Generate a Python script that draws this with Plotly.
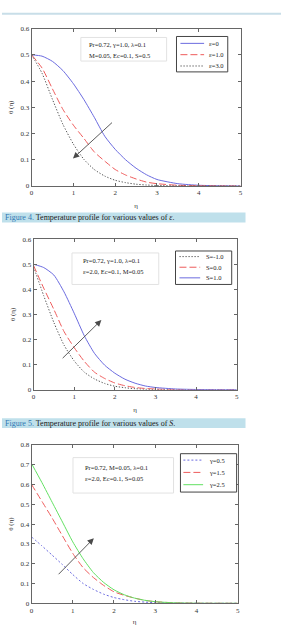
import plotly.graph_objects as go

# ---------------- data ----------------
eta = [0, 0.25, 0.5, 0.75, 1.0, 1.25, 1.5, 1.75, 2.0, 2.25, 2.5, 2.75, 3.0, 3.5, 4.0, 4.5, 5.0]

# Figure 4: various epsilon
eps_labels = ["ε=0", "ε=1.0", "ε=3.0"]
theta_eps0 = [0.5, 0.495, 0.475, 0.44, 0.39, 0.33, 0.262, 0.19, 0.14, 0.1, 0.068, 0.043, 0.025, 0.009, 0.003, 0.001, 0.0]
theta_eps1 = [0.5, 0.45, 0.37, 0.292, 0.232, 0.182, 0.13, 0.095, 0.063, 0.042, 0.027, 0.015, 0.009, 0.003, 0.001, 0.0003, 0.0]
theta_eps3 = [0.5, 0.43, 0.33, 0.235, 0.16, 0.102, 0.063, 0.038, 0.022, 0.013, 0.007, 0.004, 0.002, 0.0005, 0.0001, 0.0, 0.0]

# Figure 5: various S
s_labels = ["S=-1.0", "S=0.0", "S=1.0"]
theta_sm1 = [0.49, 0.375, 0.268, 0.178, 0.115, 0.07, 0.043, 0.025, 0.014, 0.008, 0.004, 0.002, 0.001, 0.0003, 0.0, 0.0, 0.0]
theta_s0 = [0.495, 0.405, 0.32, 0.232, 0.168, 0.113, 0.07, 0.045, 0.027, 0.016, 0.009, 0.005, 0.003, 0.001, 0.0003, 0.0, 0.0]
theta_s1 = [0.5, 0.487, 0.457, 0.39, 0.305, 0.215, 0.145, 0.098, 0.066, 0.042, 0.026, 0.015, 0.009, 0.003, 0.001, 0.0003, 0.0]

# Figure 6: various gamma
g_labels = ["γ=0.5", "γ=1.5", "γ=2.5"]
theta_g05 = [0.335, 0.29, 0.243, 0.195, 0.145, 0.1, 0.07, 0.046, 0.029, 0.018, 0.01, 0.006, 0.003, 0.001, 0.0003, 0.0, 0.0]
theta_g15 = [0.6, 0.515, 0.43, 0.34, 0.252, 0.18, 0.13, 0.09, 0.058, 0.04, 0.026, 0.015, 0.008, 0.002, 0.0005, 0.0, 0.0]
theta_g25 = [0.705, 0.61, 0.51, 0.41, 0.31, 0.225, 0.155, 0.105, 0.068, 0.043, 0.026, 0.015, 0.008, 0.002, 0.0005, 0.0, 0.0]

x_ticks = [0, 1, 2, 3, 4, 5]

params1 = ["Pr=0.72, γ=1.0, λ=0.1", "M=0.05, Ec=0.1, S=0.5"]
params2 = ["Pr=0.72, γ=1.0, λ=0.1", "ε=2.0, Ec=0.1, M=0.05"]
params3 = ["Pr=0.72, M=0.05, λ=0.1", "ε=2.0, Ec=0.1, S=0.05"]

cap4 = ("Figure 4.", "Temperature profile for various values of ", "ε", ".")
cap5 = ("Figure 5.", "Temperature profile for various values of ", "S", ".")

# ---------------- layout helpers ----------------
W, H = 283, 626
FONT = "Liberation Serif"
BLUE = "#6b6bdf"
RED = "#ee5b5b"
BLACK = "#555555"
GREEN = "#62e062"
AX = "#666666"
DOT = "1.3px,1.7px"
SDOT = "2px,2px"
DASH = "7px,3px"

def px(x):
    return x / W

def py(y):
    return 1 - y / H

fig = go.Figure()

panels = [
    dict(curves=[(theta_eps0, BLUE, "solid"), (theta_eps1, RED, DASH), (theta_eps3, BLACK, DOT)],
         labels=eps_labels, xd=(30, 242), yd=(25, 185), yr=0.6, params=params1,
         pbox=(80, 34, 167, 58), plines=(41, 52), ptx=86,
         lbox=(177, 33, 229, 69), lrows=(40, 51.5, 63), lsx=(181, 205), ltx=208,
         arrow=((1.96, 0.247), (0.99, 0.105))),
    dict(curves=[(theta_sm1, BLACK, DOT), (theta_s0, RED, DASH), (theta_s1, BLUE, "solid")],
         labels=s_labels, xd=(32, 238), yd=(239, 392), yr=0.6, params=params2,
         pbox=(71, 253, 159, 285), plines=(261, 271.7), ptx=80,
         lbox=(176, 251, 233, 285), lrows=(256.7, 267.5, 278.3), lsx=(180, 201), ltx=205,
         arrow=((0.68, 0.12), (1.67, 0.278))),
    dict(curves=[(theta_g05, BLUE, SDOT), (theta_g15, RED, DASH), (theta_g25, GREEN, "solid")],
         labels=g_labels, xd=(30, 239), yd=(448, 609), yr=0.8, params=params3,
         pbox=(72, 461, 174, 497), plines=(471.5, 482), ptx=82,
         lbox=(181, 457, 238, 496), lrows=(463.5, 476, 488.5), lsx=(184, 204), ltx=208,
         arrow=((0.62, 0.139), (1.51, 0.328))),
]

shapes = []
annotations = []

for i, p in enumerate(panels):
    n = "" if i == 0 else str(i + 1)
    xa, ya = "x" + n, "y" + n
    for (vals, col, dash) in p["curves"]:
        fig.add_trace(go.Scatter(x=eta, y=vals, mode="lines", xaxis=xa, yaxis=ya,
                                 line=dict(color=col, width=1, dash=dash, shape="spline", smoothing=0.6),
                                 showlegend=False, hoverinfo="skip"))
    yticks = [round(k * 0.1, 1) for k in range(int(round(p["yr"] * 10)) + 1)]
    axis_common = dict(showline=True, linecolor=AX, linewidth=1, mirror="ticks", ticks="inside",
                       ticklen=3, tickcolor=AX, showgrid=False, zeroline=False,
                       tickfont=dict(family=FONT, size=7, color="#333"))
    fig.layout["xaxis" + n] = dict(axis_common, domain=[px(p["xd"][0]), px(p["xd"][1])],
                                   range=[0, 5], tickvals=x_ticks, anchor=ya,
                                   title=dict(text="η", font=dict(family=FONT, size=7, color="#333"), standoff=6))
    fig.layout["yaxis" + n] = dict(axis_common, domain=[py(p["yd"][1]), py(p["yd"][0])],
                                   range=[0, p["yr"]], tickvals=yticks, anchor=xa,
                                   title=dict(text="θ (η)", font=dict(family=FONT, size=7, color="#333"), standoff=5))
    # parameter box
    x0, y0, x1, y1 = p["pbox"]
    shapes.append(dict(type="rect", xref="paper", yref="paper", x0=px(x0), x1=px(x1), y0=py(y1), y1=py(y0),
                       line=dict(color="#e2e2e2", width=1), fillcolor="white", layer="above"))
    for txt, yy in zip(p["params"], p["plines"]):
        annotations.append(dict(text=txt, xref="paper", yref="paper", x=px(p["ptx"]), y=py(yy),
                                xanchor="left", yanchor="middle", showarrow=False,
                                font=dict(family=FONT, size=6.5, color="#222")))
    # legend box
    x0, y0, x1, y1 = p["lbox"]
    shapes.append(dict(type="rect", xref="paper", yref="paper", x0=px(x0), x1=px(x1), y0=py(y1), y1=py(y0),
                       line=dict(color="#444", width=1), fillcolor="white", layer="above"))
    for (vals, col, dash), lab, yy in zip(p["curves"], p["labels"], p["lrows"]):
        shapes.append(dict(type="line", xref="paper", yref="paper", x0=px(p["lsx"][0]), x1=px(p["lsx"][1]),
                           y0=py(yy), y1=py(yy), line=dict(color=col, width=1, dash=dash), layer="above"))
        annotations.append(dict(text=lab, xref="paper", yref="paper", x=px(p["ltx"]), y=py(yy),
                                xanchor="left", yanchor="middle", showarrow=False,
                                font=dict(family=FONT, size=6.5, color="#222")))
    # arrow
    (tx, ty), (hx, hy) = p["arrow"]
    annotations.append(dict(x=hx, y=hy, ax=tx, ay=ty, xref=xa, yref=ya, axref=xa, ayref=ya,
                            showarrow=True, arrowhead=2, arrowsize=1.4, arrowwidth=0.9,
                            arrowcolor="#4a4a4a", text=""))

# caption bands
CAPBG = "#bfe0eb"
shapes.append(dict(type="rect", xref="paper", yref="paper", x0=0, x1=1, y0=py(11), y1=py(9),
                   line=dict(width=0), fillcolor="#c8dee8", layer="below"))
for cap, (ya0, ya1) in [(cap4, (212, 222)), (cap5, (421, 431))]:
    shapes.append(dict(type="rect", xref="paper", yref="paper", x0=0, x1=px(247), y0=py(ya1), y1=py(ya0),
                       line=dict(width=0), fillcolor=CAPBG, layer="below"))
    annotations.append(dict(
        text="<span style='color:#2f78b4'>%s</span> %s<i>%s</i>%s" % cap,
        xref="paper", yref="paper", x=px(1), y=py((ya0 + ya1) / 2), xanchor="left", yanchor="middle",
        showarrow=False, font=dict(family=FONT, size=8, color="#1a1a1a")))

fig.update_layout(width=W, height=H, margin=dict(l=0, r=0, t=0, b=0),
                  paper_bgcolor="white", plot_bgcolor="white",
                  shapes=shapes, annotations=annotations, showlegend=False)

fig.write_html("out.html")
